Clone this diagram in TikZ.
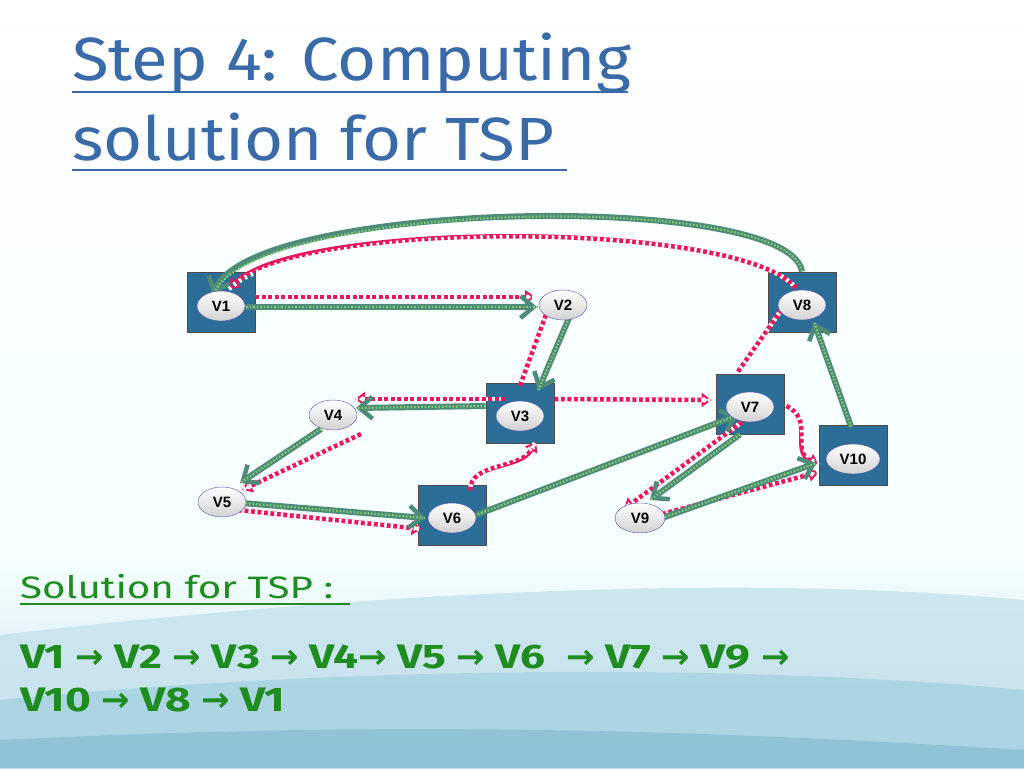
\documentclass[tikz,border=0pt]{standalone}
\usepackage{fontspec}
\setmainfont{Liberation Sans}
\newfontfamily\titlefont[FakeStretch=1.1]{Fira Sans}
\newfontfamily\widefont[FakeStretch=1.3]{Fira Sans}
\newfontfamily\arrfont{DejaVu Sans}
\usetikzlibrary{arrows.meta,shapes.geometric,calc}
\definecolor{sq}{HTML}{2C6E98}
\definecolor{ttl}{HTML}{3A6AA8}
\definecolor{grn}{HTML}{1E8C1E}
\definecolor{gdark}{HTML}{4E8C78}
\definecolor{glight}{HTML}{86D070}
\definecolor{pinkc}{HTML}{E8185C}
\definecolor{wave1}{HTML}{C6E2EC}
\definecolor{wave2}{HTML}{9ACBDD}
\definecolor{wave3}{HTML}{7FB8CF}
\tikzset{
 sqbox/.style={draw=black!70,fill=sq,minimum width=68pt,minimum height=60pt,line width=0.8pt},
 vert/.style={ellipse,draw=blue!40!gray,top color=white,bottom color=gray!35,minimum width=48pt,minimum height=30pt,inner sep=1pt,font=\bfseries\fontsize{15}{15}\selectfont},
 gbase/.style={draw=gdark,line width=6pt,-{Straight Barb[length=13pt,width=22pt,line width=4.5pt]}},
 gdot/.style={draw=glight,line width=2.2pt,dash pattern=on 1.5pt off 2pt},
 pbase/.style={draw=white,line width=4.5pt,-{Triangle[open,length=10pt,width=14pt,line width=2pt]}},
}
\newcommand{\gedge}[1]{\draw[gbase] #1; \draw[gdot] #1;}
\newcommand{\pedge}[1]{\draw[pbase,draw=pinkc] #1; \draw[draw=white,line width=4.5pt,dash pattern=on 0pt off 4pt on 2.5pt off 0pt] #1;}
\begin{document}
\begin{tikzpicture}[x=1pt,y=-1pt]
\useasboundingbox (0,0) rectangle (1024,768);
\fill[top color=white,bottom color=cyan!4!white] (0,0) rectangle (1024,560);
\fill[top color=cyan!4!white,bottom color=wave1] (0,560) rectangle (1024,768);
\fill[wave1,opacity=0.8] (0,768) -- (0,635) .. controls (300,600) and (700,570) .. (1024,600) -- (1024,768) -- cycle;
\fill[wave2,opacity=0.6] (0,768) -- (0,700) .. controls (300,670) and (700,660) .. (1024,690) -- (1024,768) -- cycle;
\fill[wave3,opacity=0.6] (0,768) -- (0,740) .. controls (400,720) and (700,730) .. (1024,750) -- (1024,768) -- cycle;
% title
\node[anchor=base west,text=ttl,font=\titlefont\fontsize{61}{61}\selectfont,inner sep=0] (t1) at (72,80) {Step 4: Computing};
\node[anchor=base west,text=ttl,font=\titlefont\fontsize{61}{61}\selectfont,inner sep=0] (t2) at (72,160) {solution for TSP};
\draw[ttl,line width=2.5pt] (72,92) -- (628,92);
\draw[ttl,line width=2.5pt] (72,170) -- (567,170);
% squares
\node[sqbox] (s1) at (221,302) {};
\node[sqbox] (s8) at (802,302) {};
\node[sqbox] (s3) at (520,413) {};
\node[sqbox] (s7) at (750,404) {};
\node[sqbox] (s10) at (853,455) {};
\node[sqbox] (s6) at (452,515) {};
% vertex coordinates (nodes drawn later on top)
\path (221,306) coordinate (c1) (563,305) coordinate (c2) (802,305) coordinate (c8)
 (520,416) coordinate (c3) (333,415) coordinate (c4) (750,407) coordinate (c7)
 (853,459) coordinate (c10) (222,502) coordinate (c5) (452,518) coordinate (c6) (640,518) coordinate (c9);
% pink edges
\pedge{($(s1.east)+(0,-5)$) -- ($(c2)+(-28,-8)$)}
\pedge{($(s3.north)+(0,3)$) -- ($(c2)+(-8,-15)$)}
\pedge{($(c3)+(-15,-17)$) -- ($(c4)+(22,-16)$)}
\pedge{($(s3.east)+(0,-14)$) -- ($(s7.west)+(-4,-4)$)}
\pedge{($(c4)+(28,19)$) -- ($(c5)+(20,-12)$)}
\pedge{($(c5)+(16,8)$) -- ($(s6.west)+(4,14)$)}
\pedge{($(s6.north)+(18,6)$) .. controls (470,462) and (520,470) .. ($(s3.south)+(16,-2)$)}
\pedge{($(s7.north)+(-12,-2)$) -- ($(c8)+(-8,-13)$)}
\pedge{($(s7.east)+(2,2)$) .. controls (815,420) and (790,450) .. ($(s10.west)+(0,10)$)}
\pedge{($(c9)+(22,-4)$) -- ($(s10.west)+(0,17)$)}
\pedge{($(c7)+(-8,15)$) -- ($(c9)+(-16,-9)$)}
\pedge{($(c8)+(-6,-17)$) .. controls (740,220) and (300,220) .. ($(c1)+(8,-17)$)}
% green edges
\gedge{($(c1)+(18,1)$) -- ($(c2)+(-26,2)$)}
\gedge{($(c2)+(6,13)$) -- ($(s3.north)+(18,8)$)}
\gedge{($(s3.west)+(0,-7)$) -- ($(c4)+(23,-7)$)}
\gedge{($(c4)+(-12,14)$) -- ($(c5)+(18,-19)$)}
\gedge{($(c5)+(20,1)$) -- ($(s6.west)+(8,3)$)}
\gedge{($(c6)+(16,0)$) -- ($(c7)+(-12,8)$)}
\gedge{($(s7.south)+(-10,0)$) -- ($(c9)+(10,-18)$)}
\gedge{($(c9)+(22,0)$) -- ($(s10.west)+(-2,8)$)}
\gedge{($(s10.north)+(-2,2)$) -- ($(c8)+(12,17)$)}
\gedge{($(s8.north)+(0,0)$) .. controls (790,190) and (250,200) .. ($(c1)+(-8,-11)$)}
% vertices
\node[vert] (v1) at (c1) {V1};
\node[vert] (v2) at (c2) {V2};
\node[vert] (v8) at (c8) {V8};
\node[vert] (v3) at (c3) {V3};
\node[vert] (v4) at (c4) {V4};
\node[vert] (v7) at (c7) {V7};
\node[vert,minimum width=54pt] (v10) at (c10) {V10};
\node[vert] (v5) at (c5) {V5};
\node[vert] (v6) at (c6) {V6};
\node[vert,minimum width=50pt] (v9) at (c9) {V9};
% text
\node[anchor=base west,text=grn,inner sep=0,font=\widefont\fontsize{31}{31}\selectfont] (sol) at (20,598) {Solution for TSP :};
\draw[grn,line width=1.8pt] (20,604) -- (350,604);
\node[anchor=base west,text=grn,inner sep=0,font=\widefont\bfseries\fontsize{34}{34}\selectfont] (r1) at (20,668) {V1 {\arrfont→} V2 {\arrfont→} V3 {\arrfont→} V4{\arrfont→} V5 {\arrfont→} V6 \ {\arrfont→} V7 {\arrfont→} V9 {\arrfont→}};
\node[anchor=base west,text=grn,inner sep=0,font=\widefont\bfseries\fontsize{34}{34}\selectfont] (r2) at (20,711) {V10 {\arrfont→} V8 {\arrfont→} V1};
\end{tikzpicture}
\end{document}
